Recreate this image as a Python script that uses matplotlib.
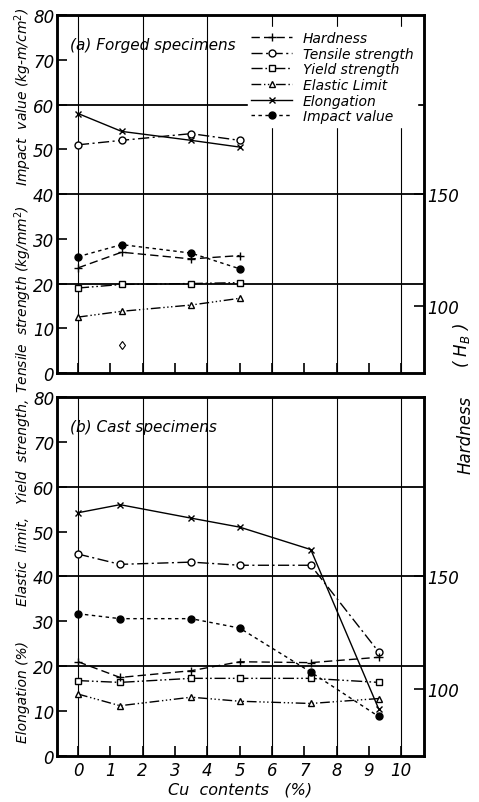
import matplotlib.pyplot as plt
from matplotlib.lines import Line2D

# Cu contents (%)
cu_forged = [0, 1.35, 3.5, 5.0]
cu_cast = [0, 1.3, 3.5, 5.0, 7.2, 9.3]

# (a) forged specimens
forged_hardness = [117, 124, 121, 122.5]   # HB
forged_tensile = [51, 52, 53.5, 52]
forged_yield = [19, 19.8, 20, 20.2]
forged_elastic = [12.5, 13.8, 15.2, 16.7]
forged_elong = [58, 54, 52, 50.5]
forged_impact = [26, 28.7, 26.8, 23.3]
stray_x = [1.35]
stray_y = [6.3]

# (b) cast specimens
cast_hardness = [112, 105, 108, 112, 111.6, 114]   # HB
cast_tensile = [45, 42.7, 43.2, 42.5, 42.5, 23.2]
cast_yield = [16.8, 16.4, 17.3, 17.3, 17.3, 16.4]
cast_elastic = [13.8, 11.2, 13.1, 12.2, 11.7, 12.8]
cast_elong = [54.2, 56, 53, 51, 46, 10.5]
cast_impact = [31.7, 30.6, 30.6, 28.5, 18.7, 8.8]

x_ticks = list(range(0, 11))
y_ticks = list(range(0, 90, 10))
grid_x = [0, 2, 4, 6, 8, 10]
grid_y = [20, 40, 60]
hb_ticks = [100, 150]

FONT = dict(family="DejaVu Sans", style="italic")

styles = {
    "Hardness": dict(ls=(0, (6, 3)), marker="+", ms=6, mfc="none"),
    "Tensile strength": dict(ls=(0, (8, 2.5, 1.5, 2.5)), marker="o", ms=5, mfc="white"),
    "Yield strength": dict(ls=(0, (8, 2, 1.2, 2, 1.2, 2)), marker="s", ms=4.5, mfc="white"),
    "Elastic Limit": dict(ls=(0, (7, 2, 1, 1.8, 1, 1.8, 1, 2)), marker="^", ms=5, mfc="white"),
    "Elongation": dict(ls="-", marker="x", ms=5, mfc="none"),
    "Impact value": dict(ls=(0, (2.5, 2.5)), marker="o", ms=5, mfc="black"),
}


def draw_panel(ax, cu, hardness, tensile, yld, elastic, elong, impact, title, show_x):
    ax.set_xlim(-0.65, 10.7)
    ax.set_ylim(0, 80)
    for gx in grid_x:
        ax.axvline(gx, color="black", lw=0.8, zorder=1)
    for gy in grid_y:
        ax.axhline(gy, color="black", lw=1.3, zorder=1)

    series = [("Tensile strength", tensile), ("Yield strength", yld),
              ("Elastic Limit", elastic), ("Elongation", elong),
              ("Impact value", impact)]
    for name, vals in series:
        ax.plot(cu, vals, color="black", lw=1.0, mec="black", zorder=3, **styles[name])

    ax.set_xticks(x_ticks)
    ax.set_yticks(y_ticks)
    ax.tick_params(axis="both", direction="in", length=7, width=1.2, labelsize=12)
    ax.tick_params(axis="y", pad=2)
    for lab in ax.get_yticklabels():
        lab.set(**FONT)
    if show_x:
        for lab in ax.get_xticklabels():
            lab.set(**FONT)
        ax.set_xlabel("Cu  contents   (%)", fontsize=11.5, labelpad=2, **FONT)
    else:
        ax.tick_params(axis="x", labelbottom=False)
    for sp in ax.spines.values():
        sp.set_linewidth(1.8)

    ax.text(0.035, 0.905, title, transform=ax.transAxes, fontsize=11, **FONT)

    tw = ax.twinx()
    tw.set_ylim(70, 230)
    tw.plot(cu, hardness, color="black", lw=1.0, mec="black", zorder=3, **styles["Hardness"])
    tw.set_yticks(hb_ticks)
    tw.tick_params(axis="y", direction="in", length=7, width=1.2, labelsize=12, pad=2)
    for lab in tw.get_yticklabels():
        lab.set(**FONT)
    for sp in tw.spines.values():
        sp.set_linewidth(1.8)
    return tw


fig = plt.figure(figsize=(4.79, 8.03), dpi=100)
ax_a = fig.add_axes([0.119, 0.5342, 0.766, 0.4458])
ax_b = fig.add_axes([0.119, 0.0573, 0.766, 0.4471])

tw_a = draw_panel(ax_a, cu_forged, forged_hardness, forged_tensile, forged_yield,
                  forged_elastic, forged_elong, forged_impact,
                  "(a) Forged specimens", False)
ax_a.plot(stray_x, stray_y, ls="none", marker="d", ms=4.5, mfc="white",
          mec="black", mew=0.8)
draw_panel(ax_b, cu_cast, cast_hardness, cast_tensile, cast_yield,
           cast_elastic, cast_elong, cast_impact, "(b) Cast specimens", True)

handles = [Line2D([], [], color="black", lw=1.0, mec="black", **styles[n])
           for n in styles]
leg = tw_a.legend(handles, list(styles.keys()), loc="upper right",
                  bbox_to_anchor=(1.0, 0.985), frameon=True, framealpha=1,
                  edgecolor="white", facecolor="white", fancybox=False,
                  handlelength=2.9, handletextpad=0.8, labelspacing=0.12,
                  borderpad=0.25, prop=dict(size=10, **FONT))
leg.set_zorder(10)

# axis titles running up the left and right sides
side = dict(rotation=90, ha="center", va="center", fontsize=10, **FONT)
fig.text(0.048, 0.880, "Impact  value (kg-m/cm$^2$)", **side)
fig.text(0.048, 0.627, "Tensile  strength (kg/mm$^2$)", **side)
fig.text(0.048, 0.374, "Elastic  limit,   Yield  strength,", **side)
fig.text(0.048, 0.138, "Elongation (%)", **side)
side.update(fontsize=12)
fig.text(0.963, 0.570, "( H$_B$ )", **side)
fig.text(0.972, 0.458, "Hardness", **side)

fig.savefig("out.png", dpi=100, facecolor="white")
